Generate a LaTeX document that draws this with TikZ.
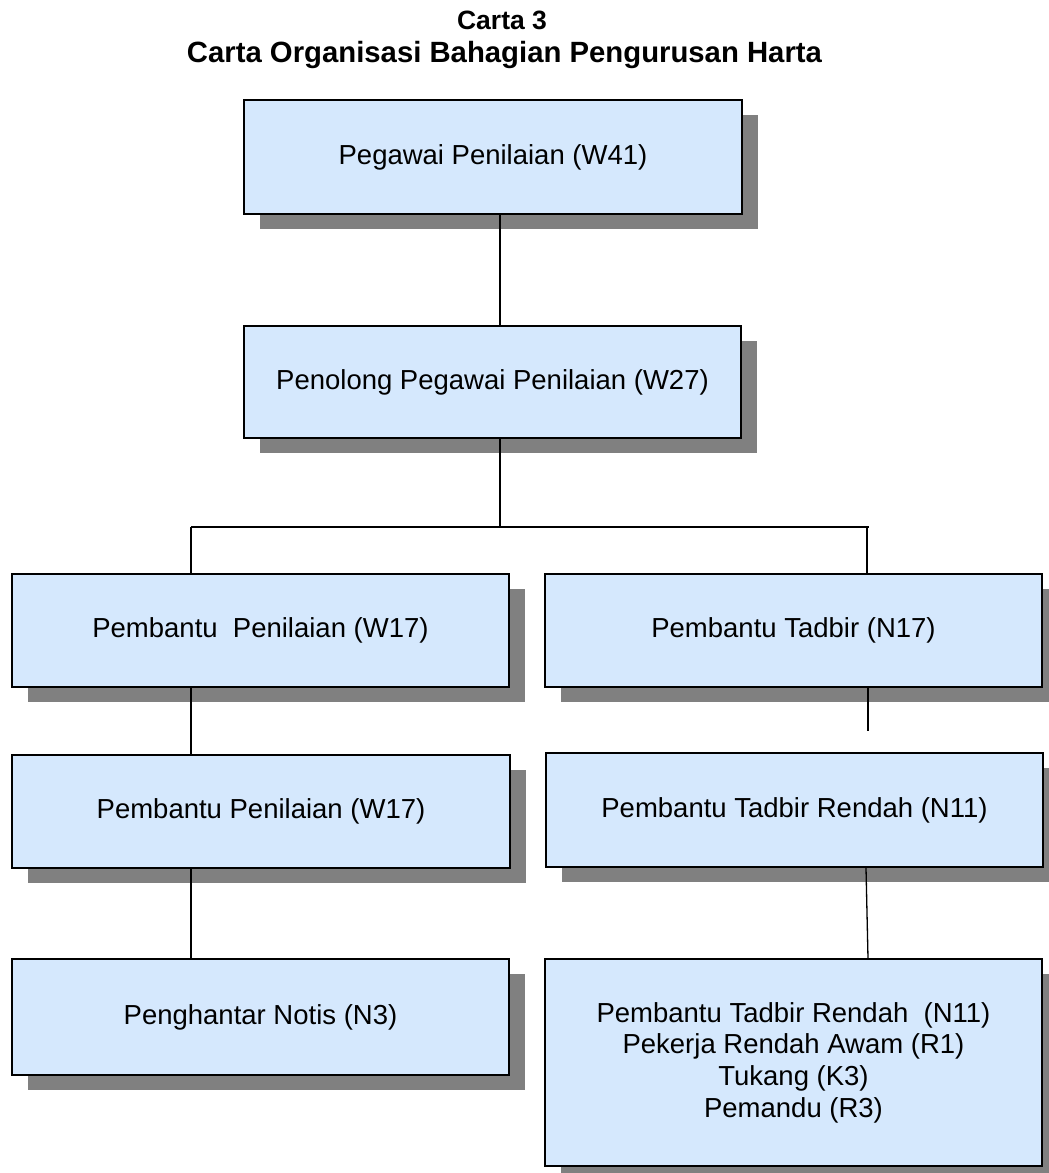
\documentclass[tikz,border=0pt]{standalone}
\usepackage{fontspec}
\setmainfont{Liberation Sans}
\usetikzlibrary{shadows}
\definecolor{kotakbiru}{RGB}{213,232,253}
\definecolor{bayang}{RGB}{128,128,128}

\begin{document}
\begin{tikzpicture}[x=1pt,y=-1pt,every node/.style={black},
  jawatan/.style={draw=black,line width=1.6pt,fill=kotakbiru,align=center,inner sep=0pt,
    font=\fontsize{27.5}{31.6}\selectfont,
    general shadow={fill=bayang,draw=none,shadow xshift=16pt,shadow yshift=-15pt}},
  garis/.style={line width=1.3pt}]
\useasboundingbox (0,0) rectangle (1049,1173);

% tajuk
\node[anchor=base,font=\bfseries\fontsize{26.5}{30}\selectfont] (nombor) at (502,29) {Carta 3};
\node[anchor=base,font=\bfseries\fontsize{29.3}{33}\selectfont] (tajuk) at (504.5,62) {Carta Organisasi Bahagian Pengurusan Harta};

% kotak jawatan
\node[jawatan,minimum width=498pt,minimum height=114pt] (pegawai)  at (493,157)    {Pegawai Penilaian (W41)};
\node[jawatan,minimum width=497pt,minimum height=112pt] (penolong) at (492.5,382)  {Penolong Pegawai Penilaian (W27)};
\node[jawatan,minimum width=497pt,minimum height=113pt] (nilaiA)   at (260.5,630.5){Pembantu~~Penilaian (W17)};
\node[jawatan,minimum width=497pt,minimum height=113pt] (tadbir)   at (793.5,630.5){Pembantu Tadbir (N17)};
\node[jawatan,minimum width=498pt,minimum height=113pt] (nilaiB)   at (261,811.5)  {Pembantu Penilaian (W17)};
\node[jawatan,minimum width=497pt,minimum height=114pt] (rendah)   at (794.5,810)  {Pembantu Tadbir Rendah (N11)};
\node[jawatan,minimum width=497pt,minimum height=116pt] (notis)    at (260.5,1017) {Penghantar Notis (N3)};
\node[jawatan,minimum width=497pt,minimum height=207pt] (awam)     at (793.5,1062.5)
  {Pembantu Tadbir Rendah~~(N11)\\Pekerja Rendah Awam (R1)\\Tukang (K3)\\Pemandu (R3)};

% garis penghubung
\coordinate (cabang) at (500,527);
\coordinate (kiri)   at (191,527);
\coordinate (kanan)  at (867,527);
\coordinate (putus)  at (868,731);

\draw[garis] (pegawai.south -| cabang) -- (penolong.north -| cabang);
\draw[garis] (penolong.south -| cabang) -- (cabang);
\draw[garis] (kiri) -- ([xshift=2pt]kanan);
\draw[garis] (kiri) -- (nilaiA.north -| kiri);
\draw[garis] (kanan) -- (tadbir.north -| kanan);
\draw[garis] (nilaiA.south -| kiri) -- (nilaiB.north -| kiri);
\draw[garis] (nilaiB.south -| kiri) -- (notis.north -| kiri);
\draw[garis] (tadbir.south -| putus) -- (putus);
\draw[garis] ([xshift=-1pt]rendah.south -| kanan) -- ([xshift=1pt]awam.north -| kanan);

\end{tikzpicture}
\end{document}
